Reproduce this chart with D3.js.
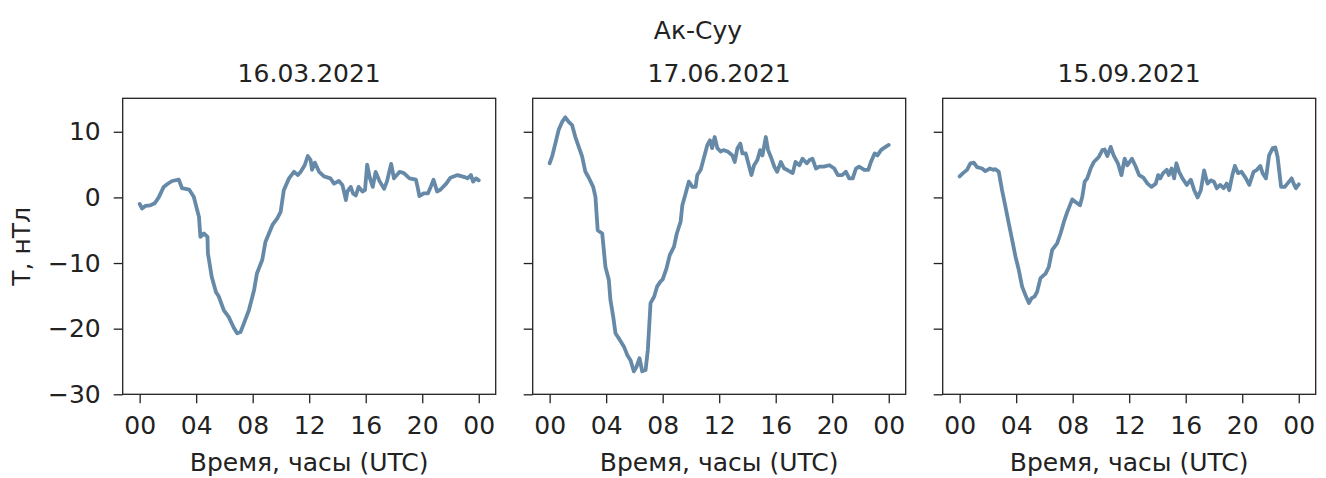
<!DOCTYPE html>
<html>
<head>
<meta charset="utf-8">
<style>
  body { margin: 0; background: #fff; }
  text { font-family: "DejaVu Sans", sans-serif; fill: #222; }
</style>
</head>
<body></body>

<script src="https://d3js.org/d3.v7.min.js"></script>

<script>

// [hour UTC, T nT]
var march16 = [
  [0,-1.0],[0.17,-1.7],[0.4,-1.3],[0.76,-1.2],[1.07,-0.9],[1.35,0],[1.7,1.6],[1.94,2.0],
  [2.3,2.5],[2.77,2.7],[3.0,1.4],[3.5,1.2],[3.83,0.1],[4.2,-3.0],[4.3,-6.0],[4.55,-5.5],
  [4.8,-6.0],[4.83,-8.5],[5.1,-12.1],[5.4,-14.4],[5.6,-15.1],[5.96,-17.2],[6.3,-18.2],
  [6.67,-19.9],[6.9,-20.7],[7.14,-20.5],[7.38,-19.2],[7.73,-17.2],[8.1,-14.1],[8.3,-11.6],
  [8.68,-9.5],[8.9,-6.8],[9.15,-5.5],[9.4,-4.2],[9.74,-3.2],[9.98,-2.2],[10.2,1.1],
  [10.57,2.9],[10.92,3.9],[11.2,3.4],[11.4,3.9],[11.68,4.9],[11.9,6.3],[12.1,5.7],
  [12.2,4.2],[12.4,5.3],[12.7,3.9],[13.05,3.2],[13.5,2.9],[13.76,2.1],[14.1,2.5],
  [14.35,1.9],[14.6,-0.4],[14.7,0.9],[14.94,1.6],[15.1,0.6],[15.3,0.3],[15.5,1.6],
  [15.77,0.9],[15.95,1.1],[16.1,5.0],[16.3,2.9],[16.5,1.6],[16.7,3.9],[16.95,2.6],
  [17.3,1.3],[17.5,2.4],[17.8,5.1],[18.0,2.9],[18.4,3.9],[18.7,3.7],[19.1,2.9],
  [19.55,2.7],[19.67,1.6],[19.8,0.2],[20.1,0.6],[20.4,0.6],[20.6,1.6],[20.8,2.7],
  [21.05,0.9],[21.3,1.2],[21.7,2.1],[22.0,3.0],[22.5,3.4],[23.0,3.1],[23.2,2.9],
  [23.45,3.4],[23.6,2.4],[23.8,2.9],[24.0,2.6]
];

var june17 = [
  [0,5.2],[0.17,6.2],[0.4,8.2],[0.64,10.3],[0.88,11.5],[1.11,12.2],[1.35,11.5],[1.59,11.0],
  [1.82,9.2],[2.06,7.7],[2.3,6.2],[2.53,3.9],[2.77,3.0],[3.08,1.6],[3.24,0.1],[3.4,-5.0],
  [3.72,-5.5],[3.95,-10.6],[4.19,-12.6],[4.3,-15.6],[4.5,-18.2],[4.66,-20.7],[4.9,-21.5],
  [5.25,-22.7],[5.49,-24.0],[5.72,-24.8],[5.96,-26.5],[6.15,-25.8],[6.36,-24.5],[6.55,-26.5],
  [6.79,-26.3],[6.95,-23.2],[7.14,-16.1],[7.4,-15.1],[7.6,-13.6],[7.85,-12.8],[8.0,-12.5],
  [8.27,-10.8],[8.5,-8.8],[8.8,-7.5],[9.0,-5.5],[9.27,-3.7],[9.39,-1.2],[9.6,0.4],
  [9.85,2.4],[10.1,1.6],[10.33,1.6],[10.45,3.4],[10.69,4.2],[10.9,5.9],[11.16,8.0],
  [11.35,8.7],[11.5,7.5],[11.68,9.2],[11.87,7.5],[12.1,7.0],[12.3,7.2],[12.6,7.0],
  [12.93,6.4],[13.1,5.4],[13.29,7.5],[13.5,8.2],[13.64,6.7],[13.88,6.7],[14.12,4.7],
  [14.28,3.4],[14.47,4.9],[14.7,5.7],[14.9,7.2],[15.06,6.4],[15.3,9.2],[15.46,7.2],
  [15.65,6.2],[15.9,4.7],[16.1,3.9],[16.36,5.4],[16.6,4.4],[16.8,4.2],[17.2,3.7],
  [17.4,5.4],[17.68,4.9],[17.9,5.9],[18.2,5.2],[18.4,5.7],[18.6,5.9],[18.85,4.4],
  [19.08,4.7],[19.4,4.7],[19.8,4.9],[20.15,4.4],[20.4,3.4],[20.7,3.4],[20.97,3.9],
  [21.2,2.9],[21.45,2.9],[21.68,4.4],[21.9,4.7],[22.27,4.2],[22.55,4.2],[22.74,5.4],
  [23.0,6.7],[23.2,6.4],[23.45,7.2],[23.7,7.6],[24.0,8.0]
];

var sept15 = [
  [0,3.2],[0.24,3.7],[0.52,4.2],[0.76,5.2],[1.0,5.3],[1.23,4.6],[1.59,4.4],[1.82,4.0],
  [2.13,4.4],[2.37,4.2],[2.53,4.3],[2.77,3.9],[3.0,1.1],[3.24,-1.4],[3.48,-4.0],[3.72,-6.5],
  [3.95,-9.0],[4.19,-11.1],[4.42,-13.6],[4.66,-14.9],[4.9,-16.1],[5.08,-15.4],[5.3,-15.1],
  [5.48,-14.4],[5.72,-12.3],[6.08,-11.6],[6.31,-10.6],[6.55,-8.0],[6.9,-7.0],[7.14,-5.5],
  [7.38,-3.7],[7.62,-2.2],[7.97,-0.3],[8.2,-0.7],[8.52,-1.2],[8.68,0.1],[8.85,2.4],
  [9.03,2.9],[9.27,4.4],[9.5,5.4],[9.86,6.2],[10.1,7.2],[10.26,7.3],[10.45,6.3],
  [10.69,7.7],[10.9,6.4],[11.2,5.2],[11.45,3.4],[11.68,5.9],[11.87,4.9],[12.2,5.9],
  [12.46,4.7],[12.7,3.4],[13.0,3.0],[13.3,2.1],[13.57,1.6],[13.88,2.1],[14.05,3.4],
  [14.2,2.9],[14.4,3.7],[14.66,4.2],[14.8,3.4],[15.0,4.4],[15.18,2.9],[15.34,5.2],
  [15.53,3.9],[15.77,2.9],[16.08,1.9],[16.36,2.7],[16.6,1.1],[16.84,0.0],[17.07,1.1],
  [17.3,4.1],[17.54,2.1],[17.78,2.6],[18.0,2.4],[18.2,1.4],[18.44,1.9],[18.68,1.4],
  [18.9,2.1],[19.08,1.1],[19.3,3.4],[19.48,4.8],[19.7,3.7],[19.95,3.9],[20.26,2.9],
  [20.5,1.9],[20.8,3.9],[21.04,4.2],[21.28,4.8],[21.44,3.7],[21.68,2.9],[21.9,6.4],
  [22.16,7.5],[22.34,7.6],[22.5,6.2],[22.75,1.6],[23.0,1.6],[23.2,2.1],[23.5,2.9],
  [23.64,2.1],[23.8,1.4],[24.0,2.0]
];

var dates = ["16.03.2021", "17.06.2021", "15.09.2021"];
var series = [march16, june17, sept15];
var xTicks = [0, 4, 8, 12, 16, 20, 24];
var xTickLabels = ["00", "04", "08", "12", "16", "20", "00"];
var yTicks = [10, 0, -10, -20, -30];

var W = 1326, H = 478;
var panelLeft = [122.7, 532.7, 942.7]
  , panelW = 373
  , plotTop = 98.3
  , plotBottom = 394.3;

var svg = d3.select("body").append("svg")
    .attr("width", W)
    .attr("height", H);

var yScale = d3.scaleLinear()
    .domain([-30, 15.1])
    .range([plotBottom, plotTop]);

svg.append("text")
    .attr("x", 698)
    .attr("y", 39)
    .attr("text-anchor", "middle")
    .attr("font-size", 25)
    .text("Ак-Суу");

svg.append("text")
    .attr("transform", "translate(30," + ((plotTop + plotBottom) / 2) + ") rotate(-90)")
    .attr("text-anchor", "middle")
    .attr("font-size", 25)
    .text("T, нТл");

series.forEach((data, i) => {

	var g = svg.append("g")
		.attr("transform", "translate(" + panelLeft[i] + ",0)");

	var xScale = d3.scaleLinear()
		.domain([-1.2, 25.2])
		.range([0, panelW]);

	var xAxis = d3.axisBottom(xScale)
		.tickValues(xTicks)
		.tickFormat((d, k) => xTickLabels[k])
		.tickSize(9)
		.tickPadding(13);

	var yAxis = d3.axisLeft(yScale)
		.tickValues(yTicks)
		.tickFormat(i == 0 ? (d => d3.format("d")(d).replace("-", "\u2212")) : "")
		.tickSize(9)
		.tickPadding(13);

	g.append("g")
		.attr("transform", "translate(0," + plotBottom + ")")
		.call(xAxis);

	g.append("g")
		.call(yAxis);

	g.selectAll(".domain").remove();
	g.selectAll(".tick line").attr("stroke", "#222").attr("stroke-width", 1.3);
	g.selectAll(".tick text")
		.attr("font-family", "DejaVu Sans, sans-serif")
		.attr("font-size", 25)
		.attr("fill", "#222");

	var line = d3.line()
		.x(d => xScale(d[0]))
		.y(d => yScale(d[1]));

	g.append("path")
		.datum(data)
		.attr("d", line)
		.attr("fill", "none")
		.attr("stroke", "#6589a7")
		.attr("stroke-width", 3.8)
		.attr("stroke-linejoin", "round")
		.attr("stroke-linecap", "round");

	g.append("rect")
		.attr("x", 0)
		.attr("y", plotTop)
		.attr("width", panelW)
		.attr("height", plotBottom - plotTop)
		.attr("fill", "none")
		.attr("stroke", "#222")
		.attr("stroke-width", 1.3);

	g.append("text")
		.attr("x", panelW / 2)
		.attr("y", 82)
		.attr("text-anchor", "middle")
		.attr("font-size", 25)
		.text(dates[i]);

	g.append("text")
		.attr("x", panelW / 2)
		.attr("y", 471)
		.attr("text-anchor", "middle")
		.attr("font-size", 25)
		.text("Время, часы (UTC)");
});

</script>
</html>
